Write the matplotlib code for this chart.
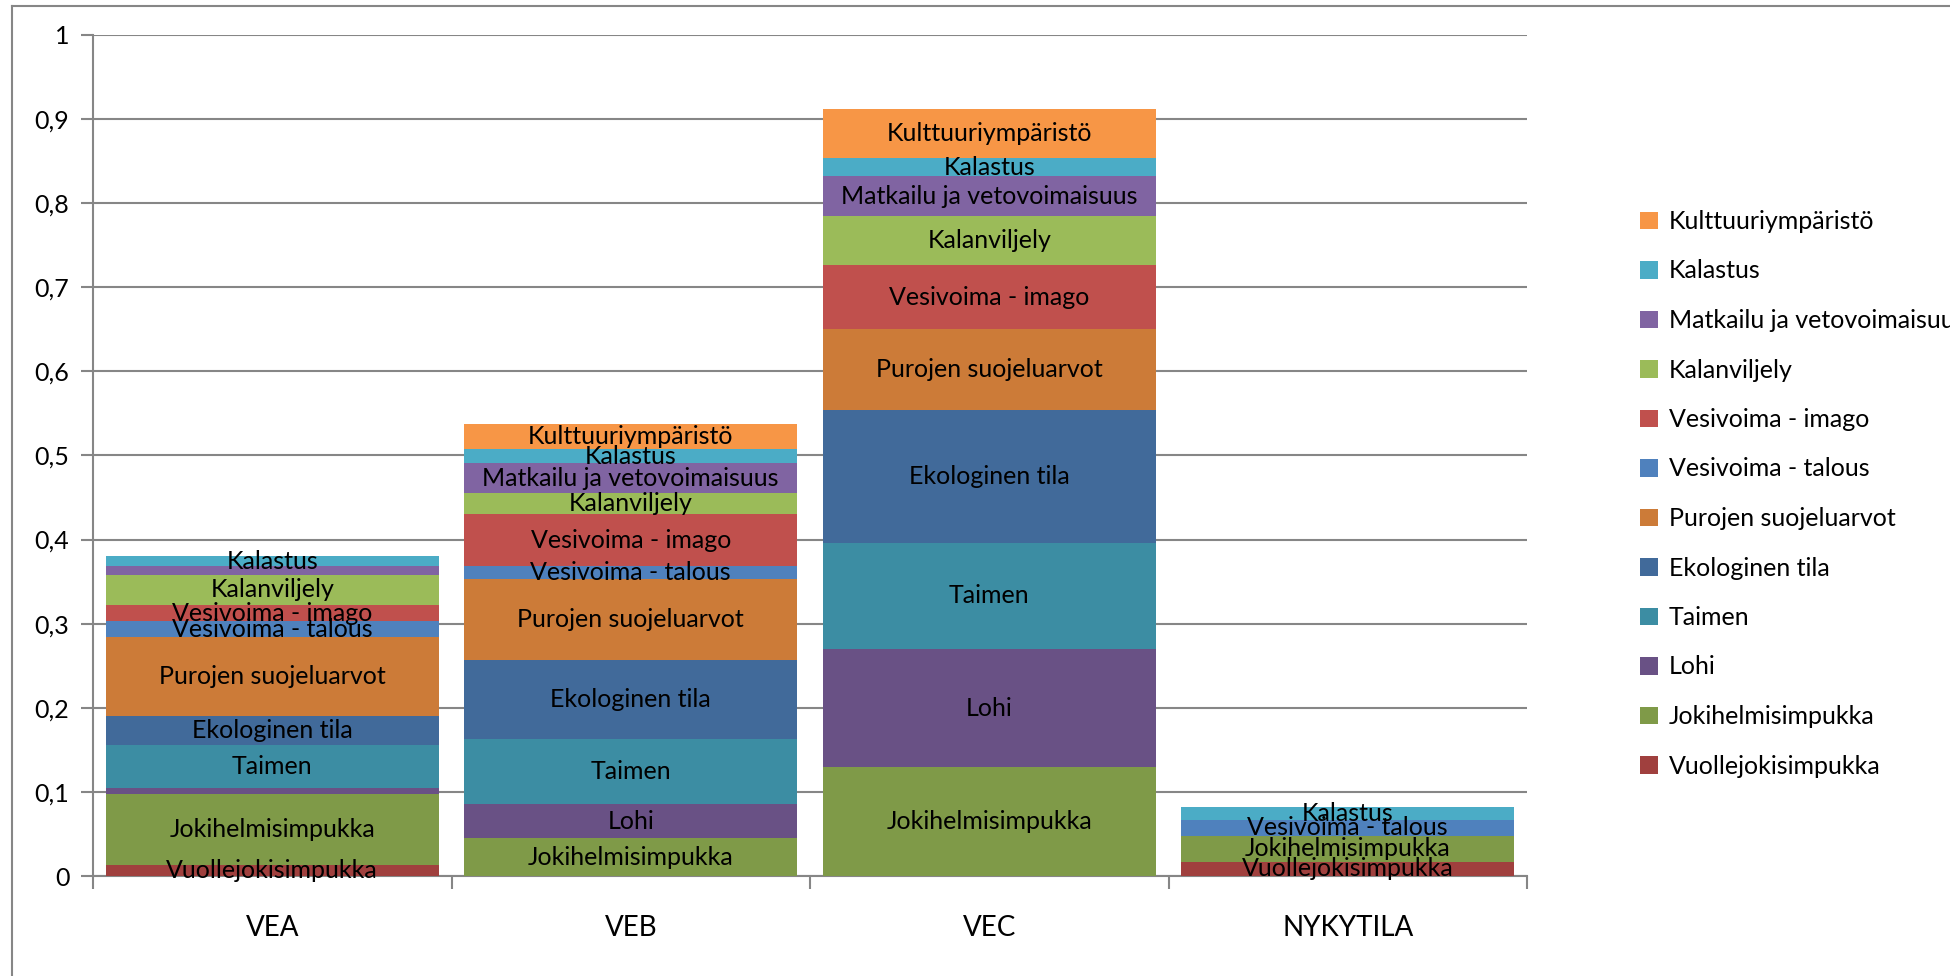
import matplotlib
matplotlib.use('Agg')
import matplotlib.pyplot as plt
import numpy as np

plt.rcParams['font.family'] = ['Lato', 'DejaVu Sans']

categories = ['VEA', 'VEB', 'VEC', 'NYKYTILA']

# series listed from the bottom of the stack upwards
series = ['Vuollejokisimpukka', 'Jokihelmisimpukka', 'Lohi', 'Taimen',
          'Ekologinen tila', 'Purojen suojeluarvot', 'Vesivoima - talous',
          'Vesivoima - imago', 'Kalanviljely', 'Matkailu ja vetovoimaisuus',
          'Kalastus', 'Kulttuuriympäristö']

vuollejokisimpukka = [0.013, 0.0, 0.0, 0.017]
jokihelmisimpukka = [0.085, 0.045, 0.129, 0.031]
lohi = [0.007, 0.040, 0.141, 0.0]
taimen = [0.051, 0.078, 0.126, 0.0]
ekologinen_tila = [0.034, 0.094, 0.158, 0.0]
purojen_suojeluarvot = [0.094, 0.096, 0.096, 0.0]
vesivoima_talous = [0.019, 0.015, 0.0, 0.019]
vesivoima_imago = [0.019, 0.0625, 0.076, 0.0]
kalanviljely = [0.036, 0.025, 0.0585, 0.0]
matkailu = [0.010, 0.035, 0.0476, 0.0]
kalastus = [0.012, 0.017, 0.0214, 0.0145]
kulttuuriymparisto = [0.0, 0.030, 0.058, 0.0]

values = [vuollejokisimpukka, jokihelmisimpukka, lohi, taimen, ekologinen_tila,
          purojen_suojeluarvot, vesivoima_talous, vesivoima_imago, kalanviljely,
          matkailu, kalastus, kulttuuriymparisto]

colors = ['#A0403E', '#7F9A48', '#695185', '#3C8DA3', '#416A9A', '#CC7B38',
          '#4F81BD', '#C0504D', '#9BBB59', '#8064A2', '#4BACC6', '#F79646']

grey = '#868686'

fig = plt.figure(figsize=(19.5, 9.76), dpi=100)
ax = fig.add_axes([93 / 1950, 1 - 876 / 976, (1527 - 93) / 1950, (876 - 34.8) / 976])

# outer chart border (left and top)
fig.add_artist(plt.Line2D([12 / 1950, 12 / 1950], [0, 1 - 6 / 976], color=grey, lw=1.5))
fig.add_artist(plt.Line2D([12 / 1950, 1], [1 - 6 / 976, 1 - 6 / 976], color=grey, lw=1.5))

x = np.arange(len(categories))
bottom = np.zeros(len(categories))
handles = []
for name, vals, col in zip(series, values, colors):
    vals = np.array(vals)
    bars = ax.bar(x, vals, width=0.93, bottom=bottom, color=col, label=name, zorder=3)
    # very thin segments get no label, like in the original
    labels = [name if v > 0.011 else '' for v in vals]
    ax.bar_label(bars, labels=labels, label_type='center', fontsize=18, color='black', zorder=4)
    bottom += vals
    handles.append(bars)

ax.set_xlim(-0.5, len(categories) - 0.5)
ax.set_ylim(0, 1)
ticks = np.arange(0, 1.01, 0.1)
ax.set_yticks(ticks)
ax.set_yticklabels(['0'] + [('%.1f' % t).replace('.', ',') for t in ticks[1:-1]] + ['1'])
ax.set_xticks(x)
ax.set_xticklabels(categories)
ax.set_xticks(np.arange(-0.5, len(categories)), minor=True)
ax.tick_params(axis='x', which='major', length=0, pad=28, labelsize=20)
ax.tick_params(axis='x', which='minor', length=9, width=1.5, color=grey, direction='out')
ax.tick_params(axis='y', length=9, width=1.5, color=grey, pad=8, labelsize=18)

ax.yaxis.grid(True, color=grey, lw=1.5, zorder=0)
for s in ['top', 'right']:
    ax.spines[s].set_visible(False)
for s in ['left', 'bottom']:
    ax.spines[s].set_color(grey)
    ax.spines[s].set_linewidth(1.5)

leg = fig.legend(handles[::-1], series[::-1], loc='upper left',
                 bbox_to_anchor=(1630 / 1950, 1 - 200 / 976), frameon=False,
                 fontsize=18, handlelength=0.7, handleheight=0.7, handletextpad=0.45,
                 labelspacing=1.06, borderaxespad=0)

fig.savefig('out.png', dpi=100)
